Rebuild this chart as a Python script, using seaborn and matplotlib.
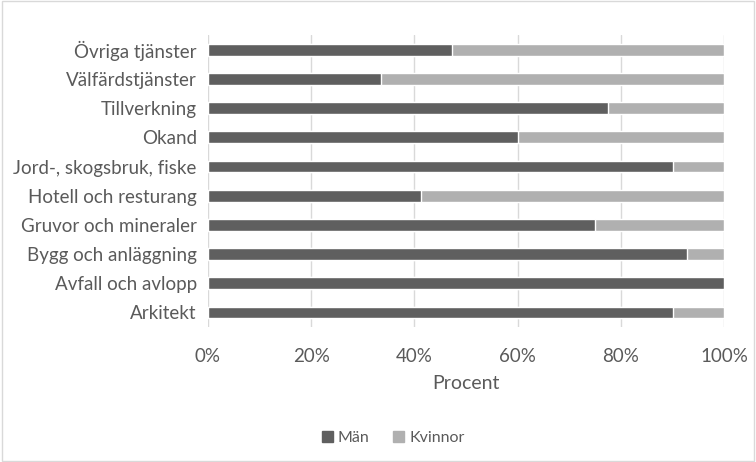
import matplotlib
matplotlib.use("Agg")
import matplotlib.pyplot as plt
import seaborn as sns
import pandas as pd
import numpy as np
from matplotlib.patches import Patch
from matplotlib.ticker import PercentFormatter

# Data (percent), top to bottom as in the chart
categories = ["Övriga tjänster", "Välfärdstjänster", "Tillverkning", "Okand",
              "Jord-, skogsbruk, fiske", "Hotell och resturang",
              "Gruvor och mineraler", "Bygg och anläggning",
              "Avfall och avlopp", "Arkitekt"]
man = [47.3, 33.6, 77.4, 60.0, 90.0, 41.3, 75.0, 92.8, 100.0, 90.0]
kvinnor = [52.7, 66.4, 22.6, 40.0, 10.0, 58.7, 25.0, 7.2, 0.0, 10.0]

df = pd.DataFrame({"kategori": categories, "Män": man, "Kvinnor": kvinnor})
df["total"] = df["Män"] + df["Kvinnor"]

sns.set_style("white")
plt.rcParams["font.family"] = ["Lato", "DejaVu Sans"]
text_color = "#5a5a5a"
c_man = "#5f5f5f"
c_kv = "#b0b0b0"

fig = plt.figure(figsize=(7.56, 4.62), dpi=100)
ax = fig.add_axes([0.275, 0.292, 0.683, 0.632])

# stacked: total in light gray, men on top in dark gray
sns.barplot(data=df, y="kategori", x="total", color=c_kv, width=0.41,
            orient="h", ax=ax, saturation=1)
sns.barplot(data=df, y="kategori", x="Män", color=c_man, width=0.41,
            orient="h", ax=ax, saturation=1)

ax.set_xlim(0, 100)
ax.set_ylim(len(categories) - 0.5, -0.5)
ax.set_xticks(np.arange(0, 101, 20))
ax.xaxis.set_major_formatter(PercentFormatter(decimals=0))
ax.grid(axis="x", color="#d9d9d9", linewidth=1)
ax.set_axisbelow(True)
for s in ["top", "right", "bottom", "left"]:
    ax.spines[s].set_visible(False)
ax.tick_params(axis="both", length=0, colors=text_color, labelsize=13.5)
ax.tick_params(axis="x", pad=15)
ax.tick_params(axis="y", pad=8)
ax.set_ylabel("")
ax.set_xlabel("Procent", color=text_color, fontsize=14, labelpad=7)

handles = [Patch(color=c_man, label="Män"), Patch(color=c_kv, label="Kvinnor")]
fig.legend(handles=handles, loc="center", bbox_to_anchor=(0.52, 0.052), ncol=2,
           frameon=False, fontsize=11.5, labelcolor=text_color,
           handlelength=0.7, handleheight=0.7, handletextpad=0.3, columnspacing=1.5)

# light outer border
fig.patches.append(plt.Rectangle((0.002, 0.002), 0.996, 0.996, transform=fig.transFigure,
                                 fill=False, edgecolor="#d9d9d9", linewidth=1))

fig.savefig("out.png", dpi=100)
